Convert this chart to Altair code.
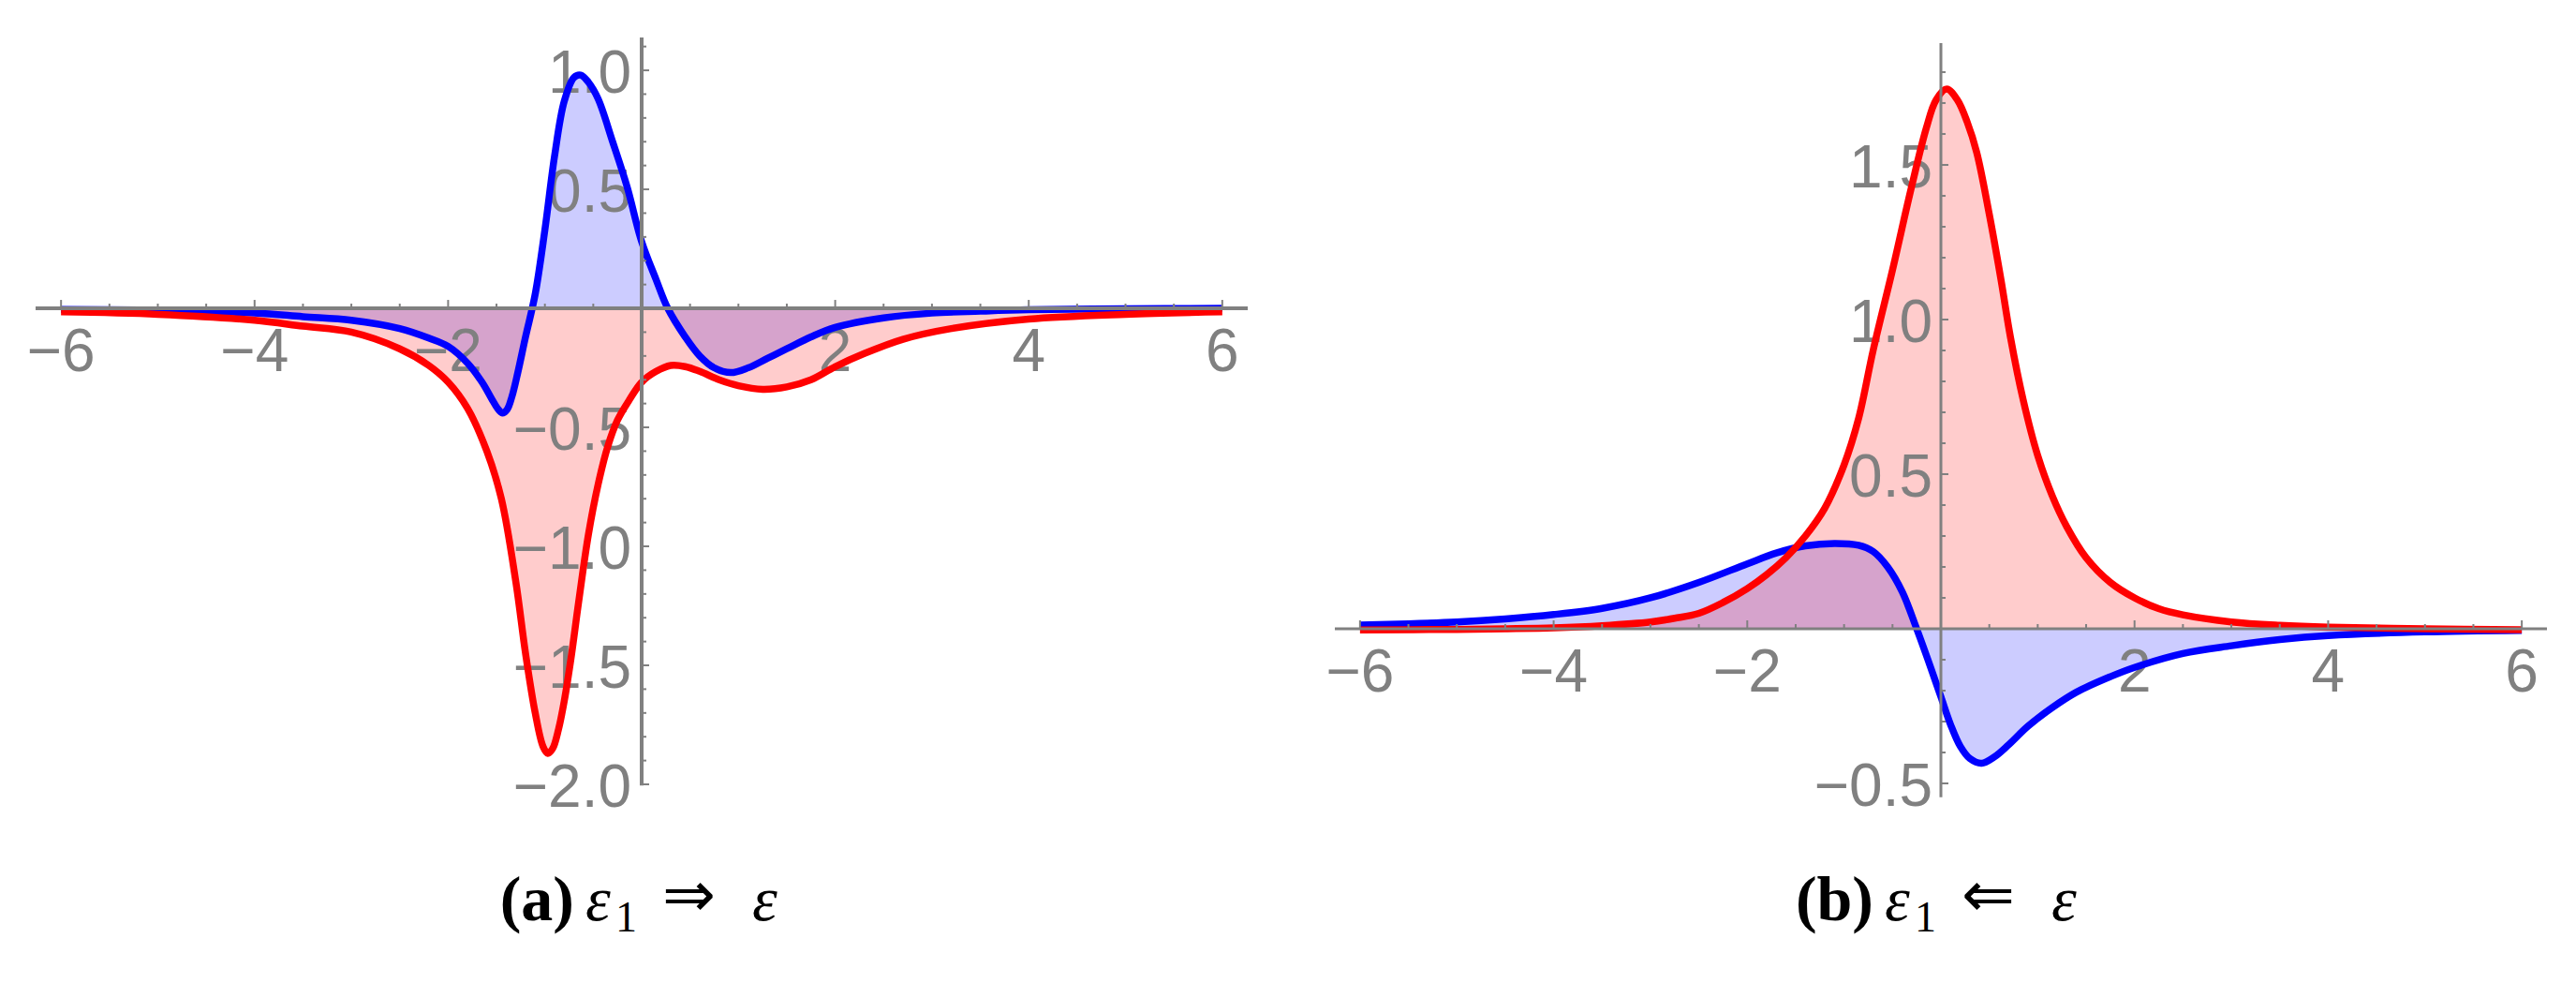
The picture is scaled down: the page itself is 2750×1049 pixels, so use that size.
import altair as alt
import pandas as pd
import numpy as np

# ---------------- data ----------------
# panel (a)
xa_blue = [-6, -5, -4, -3.5, -3, -2.5, -2.2, -2, -1.8, -1.65, -1.55, -1.49, -1.44, -1.39, -1.34, -1.28,
           -1.2, -1.1, -1.0, -0.9, -0.8, -0.7, -0.63, -0.55, -0.45, -0.3, -0.15, 0, 0.15, 0.27, 0.45,
           0.6, 0.75, 0.92, 1.1, 1.3, 1.5, 1.75, 2.0, 2.5, 3, 3.5, 4, 5, 6]
ya_blue = [-0.005, -0.008, -0.02, -0.035, -0.05, -0.085, -0.125, -0.16, -0.23, -0.31, -0.38, -0.42, -0.44,
           -0.425, -0.37, -0.27, -0.12, 0.06, 0.33, 0.64, 0.87, 0.97, 0.98, 0.95, 0.88, 0.70, 0.51, 0.28,
           0.12, 0.0, -0.12, -0.2, -0.25, -0.27, -0.25, -0.21, -0.17, -0.12, -0.08, -0.04, -0.02,
           -0.012, -0.006, -0.002, 0]
xa_red = [-6, -5, -4, -3.5, -3, -2.5, -2.2, -2, -1.8, -1.6, -1.45, -1.3, -1.2, -1.1, -1.02, -0.97, -0.92,
          -0.86, -0.8, -0.73, -0.65, -0.55, -0.45, -0.35, -0.25, -0.12, 0, 0.15, 0.3, 0.45, 0.6, 0.8,
          1.0, 1.25, 1.5, 1.75, 2.0, 2.3, 2.7, 3.2, 4, 5, 6]
ya_red = [-0.015, -0.025, -0.05, -0.075, -0.1, -0.17, -0.24, -0.31, -0.42, -0.6, -0.8, -1.15, -1.45,
          -1.70, -1.84, -1.87, -1.85, -1.77, -1.65, -1.47, -1.23, -0.95, -0.74, -0.58, -0.47, -0.38,
          -0.31, -0.265, -0.24, -0.245, -0.265, -0.30, -0.325, -0.34, -0.33, -0.30, -0.245, -0.19,
          -0.13, -0.085, -0.045, -0.025, -0.015]

# panel (b)
xb_blue = [-6, -5.5, -5, -4.5, -4, -3.5, -3, -2.5, -2.0, -1.7, -1.4, -1.1, -0.85, -0.7, -0.55, -0.4,
           -0.25, -0.1, 0, 0.1, 0.2, 0.3, 0.42, 0.55, 0.7, 0.9, 1.15, 1.4, 1.75, 2.0, 2.5, 3.0, 3.5,
           4.0, 5.0, 6.0]
yb_blue = [0.012, 0.016, 0.022, 0.032, 0.046, 0.066, 0.10, 0.15, 0.21, 0.245, 0.268, 0.276, 0.27, 0.25,
           0.20, 0.12, 0.0, -0.13, -0.22, -0.31, -0.38, -0.42, -0.435, -0.415, -0.375, -0.315, -0.255,
           -0.205, -0.155, -0.125, -0.08, -0.055, -0.035, -0.022, -0.01, -0.005]
xb_red = [-6, -5, -4.5, -4, -3.5, -3, -2.75, -2.5, -2.25, -2, -1.8, -1.6, -1.4, -1.2, -1.0, -0.85, -0.7,
          -0.5, -0.31, -0.15, -0.05, 0.06, 0.17, 0.27, 0.37, 0.5, 0.62, 0.72, 0.85, 1.0, 1.15, 1.3,
          1.5, 1.75, 2.0, 2.25, 2.5, 3.0, 3.5, 4, 5, 6]
yb_red = [-0.004, -0.002, 0.0, 0.003, 0.01, 0.022, 0.034, 0.05, 0.085, 0.13, 0.175, 0.23, 0.30, 0.39,
          0.53, 0.68, 0.90, 1.16, 1.42, 1.62, 1.71, 1.745, 1.71, 1.64, 1.54, 1.34, 1.13, 0.94, 0.74,
          0.56, 0.43, 0.33, 0.23, 0.15, 0.10, 0.065, 0.045, 0.022, 0.011, 0.005, 0.0, -0.003]

# tick labels
x_major = [-6, -4, -2, 2, 4, 6]
x_major_lbl = ["\u22126", "\u22124", "\u22122", "2", "4", "6"]
ya_major = [1.0, 0.5, -0.5, -1.0, -1.5, -2.0]
ya_major_lbl = ["1.0", "0.5", "\u22120.5", "\u22121.0", "\u22121.5", "\u22122.0"]
yb_major = [1.5, 1.0, 0.5, -0.5]
yb_major_lbl = ["1.5", "1.0", "0.5", "\u22120.5"]

cap_a = ["(a)", "\u03b5", "1", "\u21d2", "\u03b5"]
cap_b = ["(b)", "\u03b5", "1", "\u21d0", "\u03b5"]

# ---------------- style ----------------
W, H = 1294, 812
GRAY = "#808080"
BLUE = "#0000ff"
RED = "#ff0000"
LBL_FONT = "Liberation Sans"
CAP_FONT = "Liberation Serif"
INTERP = "catmull-rom"
LW = 7.5


def minor(lo, hi, step):
    n = int(round((hi - lo) / step))
    vals = [round(lo + i * step, 3) for i in range(n + 1)]
    return [v for v in vals if abs(v) > 1e-9]


def panel(xb, yb, xr, yr, xdom, ydom, yaxis_lo, yaxis_hi, ymaj, ymaj_lbl,
          yminor_lo, yminor_hi, axis_w, ylbl_dx, caption):
    xs = alt.Scale(domain=xdom, nice=False, zero=False)
    ys = alt.Scale(domain=ydom, nice=False, zero=False)
    X = alt.X("x:Q", scale=xs, axis=None)
    Y = alt.Y("y:Q", scale=ys, axis=None)

    blue = pd.DataFrame({"x": xb, "y": yb})
    red = pd.DataFrame({"x": xr, "y": yr})

    area_b = alt.Chart(blue).mark_area(color=BLUE, opacity=0.2, interpolate=INTERP).encode(
        x=X, y=Y, y2=alt.datum(0))
    area_r = alt.Chart(red).mark_area(color=RED, opacity=0.2, interpolate=INTERP).encode(
        x=X, y=Y, y2=alt.datum(0))
    line_b = alt.Chart(blue).mark_line(color=BLUE, strokeWidth=LW, interpolate=INTERP).encode(x=X, y=Y)
    line_r = alt.Chart(red).mark_line(color=RED, strokeWidth=LW, interpolate=INTERP).encode(x=X, y=Y)

    # axis lines
    xaxis = alt.Chart(pd.DataFrame({"x": [xdom[0]], "x2": [xdom[1]], "y": [0]})).mark_rule(
        color=GRAY, strokeWidth=axis_w).encode(x=X, x2="x2:Q", y=Y)
    yaxis = alt.Chart(pd.DataFrame({"x": [0], "y": [yaxis_lo], "y2": [yaxis_hi]})).mark_rule(
        color=GRAY, strokeWidth=axis_w).encode(x=X, y=Y, y2="y2:Q")

    # ticks
    xt_all = minor(-6, 6, 0.5)
    xt_maj = [v for v in xt_all if abs(v) % 2 == 0]
    xt_min = [v for v in xt_all if abs(v) % 2 != 0]
    yt_all = minor(yminor_lo, yminor_hi, 0.1)
    yt_maj = [v for v in yt_all if abs(round(v * 2) - v * 2) < 1e-6]
    yt_min = [v for v in yt_all if v not in yt_maj]

    def xticks(vals, L):
        return alt.Chart(pd.DataFrame({"x": vals, "y": [0] * len(vals)})).mark_tick(
            orient="vertical", size=L, thickness=2, color=GRAY, opacity=1, yOffset=-L / 2
        ).encode(x=X, y=Y)

    def yticks(vals, L):
        return alt.Chart(pd.DataFrame({"x": [0] * len(vals), "y": vals})).mark_tick(
            orient="horizontal", size=L, thickness=2, color=GRAY, opacity=1, xOffset=L / 2
        ).encode(x=X, y=Y)

    ticks = [xticks(xt_maj, 9), xticks(xt_min, 5), yticks(yt_maj, 8), yticks(yt_min, 5)]

    # tick labels
    xl = alt.Chart(pd.DataFrame({"x": x_major, "y": [0] * len(x_major), "t": x_major_lbl})).mark_text(
        font=LBL_FONT, fontSize=64, color=GRAY, align="center", baseline="alphabetic", dy=67
    ).encode(x=X, y=Y, text="t:N")
    yl = alt.Chart(pd.DataFrame({"x": [0] * len(ymaj), "y": ymaj, "t": ymaj_lbl})).mark_text(
        font=LBL_FONT, fontSize=64, color=GRAY, align="right", baseline="alphabetic",
        dx=ylbl_dx, dy=24
    ).encode(x=X, y=Y, text="t:N")

    # caption
    c = W / 2
    base = 942
    one = pd.DataFrame({"k": [0]})

    def cap(text, x, y, size, weight="normal", style="normal", align="left", font=CAP_FONT):
        return alt.Chart(one).mark_text(
            text=text, font=font, fontSize=size, fontWeight=weight, fontStyle=style,
            align=align, baseline="alphabetic", color="black"
        ).encode(x=alt.value(x), y=alt.value(y))

    caps = [
        cap(caption[0], c - 72, base, 68, weight="bold", align="right"),
        cap(caption[1], c - 60, base, 68, style="italic"),
        cap(caption[2], c - 28, base + 12, 46),
        cap(caption[3], c + 22, base - 4, 68, font="DejaVu Sans"),
        cap(caption[4], c + 118, base, 68, style="italic"),
    ]

    return alt.layer(area_b, area_r, xl, yl, line_b, line_r, xaxis, yaxis, *ticks, *caps).properties(
        width=W, height=H, view=alt.ViewBackground(stroke="transparent", strokeWidth=0))


left = panel(xa_blue, ya_blue, xa_red, ya_red,
             xdom=[-6.263, 6.263], ydom=[-2.059, 1.138],
             yaxis_lo=-2.005, yaxis_hi=1.138,
             ymaj=ya_major, ymaj_lbl=ya_major_lbl,
             yminor_lo=-2.0, yminor_hi=1.1, axis_w=4, ylbl_dx=-11, caption=cap_a)

right = panel(xb_blue, yb_blue, xb_red, yb_red,
              xdom=[-6.26, 6.26], ydom=[-0.5485, 1.912],
              yaxis_lo=-0.545, yaxis_hi=1.894,
              ymaj=yb_major, ymaj_lbl=yb_major_lbl,
              yminor_lo=-0.5, yminor_hi=1.8, axis_w=3, ylbl_dx=-9, caption=cap_b)

chart = alt.hconcat(left, right, spacing=93, bounds="flush").properties(
    padding={"left": 20, "top": 30, "right": 10, "bottom": 10}
).configure_view(stroke="transparent", strokeWidth=0).configure(background="white")

chart.save("out.html", embed_options={"renderer": "svg", "actions": False})
